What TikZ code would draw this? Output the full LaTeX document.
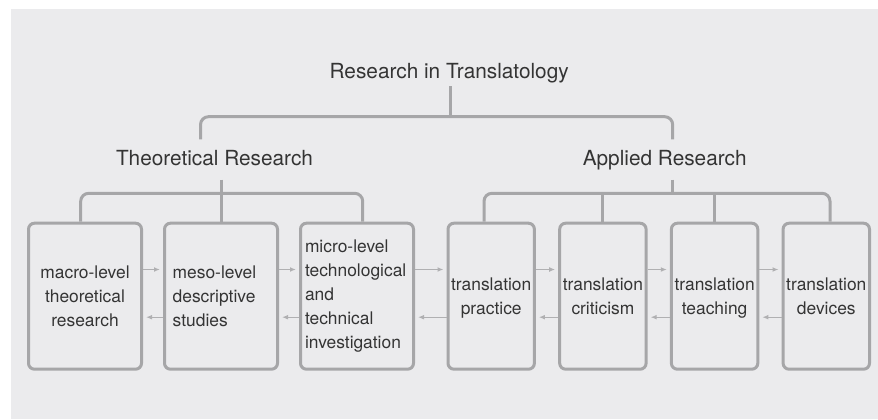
\documentclass[tikz,border=0pt]{standalone}
\usepackage{fontspec}
\setmainfont{TeX Gyre Heros}
\usetikzlibrary{arrows.meta}

\definecolor{bggray}{RGB}{235,235,237}
\definecolor{linegray}{RGB}{166,166,168}
\definecolor{flowgray}{RGB}{176,176,178}
\definecolor{textgray}{RGB}{52,52,52}

\newcommand{\headfont}{\fontsize{10.4}{12.5}\selectfont}
\newcommand{\boxfont}{\fontsize{8.7}{12}\selectfont}

\tikzset{
    head/.style={font=\headfont, text=textgray, anchor=base, inner sep=1.5pt},
    branch/.style={head, inner xsep=1.5pt, inner ysep=5pt, text depth=0.21em},
    link/.style={draw=linegray, line width=1.5pt, rounded corners=4pt},
    flow/.style={draw=flowgray, line width=0.6pt, shorten >=1.5pt},
    box/.style={draw=linegray, line width=1.5pt, rounded corners=3pt, font=\boxfont,
        text=textgray, minimum height=73pt, inner sep=0pt, align=center},
    widebox/.style={box, minimum width=56.5pt},
    narrowbox/.style={box, minimum width=43.2pt, text depth=0pt},
    >={Latex[length=3pt,width=2.4pt]}
}

\begin{document}
\begin{tikzpicture}[x=0.5pt, y=-0.5pt]
    % фон
    \useasboundingbox (0,0) rectangle (878,419);
    \fill [bggray] (11,9) rectangle (878,419);

    % заголовки
    \node [head] (rt) at (449.2,78.3) {Research in Translatology};
    \node [branch] (th) at (214.5,165) {Theoretical Research};
    \node [branch] (ap) at (664.7,165) {Applied Research};

    % блоки
    \node [widebox] (m1) at (85,296.2) {macro-level\\theoretical\\research};
    \node [widebox, text width=48.3pt, inner xsep=4.1pt, align=left] (m2) at (221,296.2)
        {meso-level\\descriptive\\studies};
    \node [widebox, text width=52pt, inner xsep=2.25pt, align=left] (m3) at (357,296.2)
        {micro-level\\technological\\and\\technical\\investigation};
    \node [narrowbox] (m4) at (491.2,296.2) {translation\\practice};
    \node [narrowbox] (m5) at (602.9,296.2) {translation\\criticism};
    \node [narrowbox] (m6) at (714.6,296.2) {translation\\teaching};
    \node [narrowbox] (m7) at (826.3,296.2) {translation\\devices};

    % скобки
    \coordinate (tj) at (450.7,116.7);
    \coordinate (lj) at (221,193.3);
    \coordinate (rj) at (672.7,193.3);
    \draw [link] (rt.south -| tj) -- (tj);
    \draw [link] ([xshift=-7pt]th.north) |- (tj) -| ([xshift=4pt]ap.north);

    \draw [link] (th.south -| lj) -- (lj);
    \draw [link] ([xshift=-2.15pt]m1.north) |- (lj) -| ([xshift=2.85pt]m3.north);
    \draw [link] (m2.north) -- (lj);

    \draw [link] (ap.south -| rj) -- (rj);
    \draw [link] ([xshift=-3.6pt]m4.north) |- (rj) -| ([xshift=1.85pt]m7.north);
    \draw [link] (m5.north) -- (m5.north |- rj);
    \draw [link] (m6.north) -- (m6.north |- rj);

    % стрелки
    \foreach \a/\b in {m1/m2, m2/m3, m3/m4, m4/m5, m5/m6, m6/m7} {
        \draw [flow, ->] ([yshift=13.35pt]\a.east) -- ([yshift=13.35pt]\b.west);
        \draw [flow, ->] ([yshift=-10.5pt]\b.west) -- ([yshift=-10.5pt]\a.east);
    }
\end{tikzpicture}
\end{document}
